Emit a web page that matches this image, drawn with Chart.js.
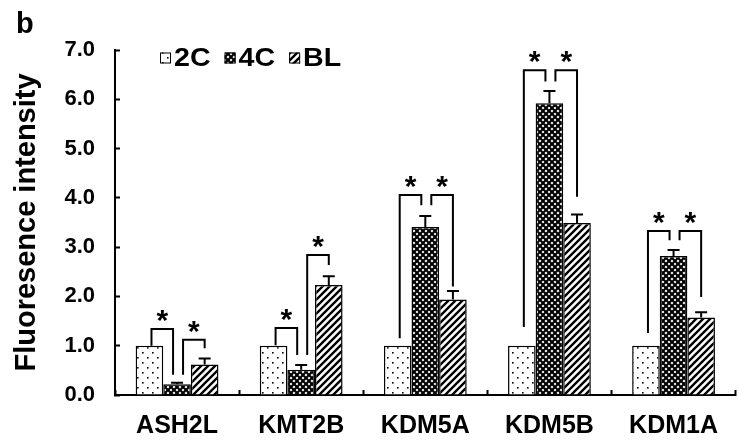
<!DOCTYPE html>
<html>
<head>
<meta charset="utf-8">
<script src="https://cdn.jsdelivr.net/npm/chart.js@4"></script>
<style>
  html, body { margin: 0; padding: 0; background: #fff; }
</style>
</head>
<body>
<canvas id="chart" width="739" height="442"></canvas>
<script>
const genes = ["ASH2L", "KMT2B", "KDM5A", "KDM5B", "KDM1A"];
const stages = ["2C", "4C", "BL"];
const values2C = [1.0, 1.0, 1.0, 1.0, 1.0];
const values4C = [0.22, 0.51, 3.41, 5.92, 2.82];
const valuesBL = [0.62, 2.23, 1.94, 3.49, 1.57];
const err2C = [0, 0, 0, 0, 0];
const err4C = [0.03, 0.10, 0.22, 0.25, 0.12];
const errBL = [0.12, 0.18, 0.17, 0.17, 0.11];
const yTicks = [0, 1, 2, 3, 4, 5, 6, 7];

// significance brackets per gene: [top, left foot, right foot] in axis units
const sig2Cvs4C = [[1.34, 1.0, 0.41], [1.36, 1.01, 0.81], [4.06, 1.15, 3.85], [6.59, 1.38, 6.36], [3.33, 1.26, 3.14]];
const sig4CvsBL = [[1.12, 0.41, 0.95], [2.84, 0.81, 2.64], [4.06, 3.85, 2.2], [6.59, 6.36, 4.02], [3.33, 3.14, 1.99]];

const FONT = "'Liberation Sans', Arial, sans-serif";

function makePattern(kind) {
    const c = document.createElement("canvas");
    const g = c.getContext("2d");
    if (kind === "dots") {
        c.width = 10; c.height = 10;
        g.fillStyle = "#fff"; g.fillRect(0, 0, 10, 10);
        g.fillStyle = "#000";
        g.fillRect(2, 2, 1.6, 1.6);
        g.fillRect(7, 7, 1.6, 1.6);
    } else if (kind === "cross") {
        c.width = 6; c.height = 6;
        g.fillStyle = "#fff"; g.fillRect(0, 0, 6, 6);
        g.strokeStyle = "#000"; g.lineWidth = 2.2;
        g.beginPath();
        g.moveTo(-1, -1); g.lineTo(7, 7);
        g.moveTo(-1, 7); g.lineTo(7, -1);
        g.stroke();
    } else {
        c.width = 7; c.height = 7;
        g.fillStyle = "#fff"; g.fillRect(0, 0, 7, 7);
        g.strokeStyle = "#000"; g.lineWidth = 2.4;
        g.beginPath();
        g.moveTo(-1, 8); g.lineTo(8, -1);
        g.moveTo(-2, 2); g.lineTo(2, -2);
        g.moveTo(5, 9); g.lineTo(9, 5);
        g.stroke();
    }
    return g.createPattern(c, "repeat");
}

const fills = [makePattern("dots"), makePattern("cross"), makePattern("stripes")];

const annotatePlugin = {
    id: "annotate",
    afterDatasetsDraw(chart) {
        const ctx = chart.ctx;
        const yScale = chart.scales.y;
        ctx.save();
        ctx.strokeStyle = "#000";
        ctx.fillStyle = "#000";
        ctx.lineWidth = 2;

        // error bars, upper half only
        chart.data.datasets.forEach((ds, di) => {
            const meta = chart.getDatasetMeta(di);
            meta.data.forEach((bar, i) => {
                const e = ds.errors[i];
                if (!e) return;
                const yTop = yScale.getPixelForValue(ds.data[i] + e);
                ctx.beginPath();
                ctx.moveTo(bar.x, bar.y);
                ctx.lineTo(bar.x, yTop);
                ctx.moveTo(bar.x - 6, yTop);
                ctx.lineTo(bar.x + 6, yTop);
                ctx.stroke();
            });
        });

        // brackets with stars
        const bars = [0, 1, 2].map(d => chart.getDatasetMeta(d).data);
        ctx.font = "bold 30px " + FONT;
        ctx.textAlign = "center";
        ctx.textBaseline = "alphabetic";
        function bracket(xl, xr, s) {
            const top = yScale.getPixelForValue(s[0]);
            ctx.beginPath();
            ctx.moveTo(xl, yScale.getPixelForValue(s[1]));
            ctx.lineTo(xl, top);
            ctx.lineTo(xr, top);
            ctx.lineTo(xr, yScale.getPixelForValue(s[2]));
            ctx.stroke();
            ctx.fillText("*", (xl + xr) / 2, top + 1);
        }
        genes.forEach((g, i) => {
            bracket(bars[0][i].x + 2, bars[1][i].x - 4, sig2Cvs4C[i]);
            bracket(bars[1][i].x + 6, bars[2][i].x, sig4CvsBL[i]);
        });

        // legend inside plot area
        let x = 160;
        const base = 66;
        ctx.font = "bold 26px " + FONT;
        ctx.textAlign = "left";
        ctx.lineWidth = 1;
        chart.data.datasets.forEach((ds) => {
            ctx.fillStyle = ds.backgroundColor;
            ctx.fillRect(x, 52.5, 11, 11);
            ctx.strokeRect(x + 0.5, 53, 10, 10);
            ctx.fillStyle = "#000";
            const w = ctx.measureText(ds.label).width * 1.1;
            ctx.save();
            ctx.translate(x + 14, base);
            ctx.scale(1.1, 1);
            ctx.fillText(ds.label, 0, 0);
            ctx.restore();
            x += 14 + w + 14;
        });

        // panel letter
        ctx.font = "bold 29px " + FONT;
        ctx.fillText("b", 16, 33);
        ctx.restore();
    }
};

const datasets = [values2C, values4C, valuesBL].map((vals, i) => ({
    label: stages[i],
    data: vals,
    errors: [err2C, err4C, errBL][i],
    backgroundColor: fills[i],
    borderColor: "#000",
    borderWidth: 1.5,
    categoryPercentage: 0.667,
    barPercentage: 1.0
}));

new Chart(document.getElementById("chart"), {
    type: "bar",
    data: { labels: genes, datasets: datasets },
    options: {
        responsive: false,
        animation: false,
        devicePixelRatio: 1,
        layout: { padding: { top: 50, right: -4, left: 0, bottom: 0 } },
        plugins: { legend: { display: false }, tooltip: { enabled: false } },
        scales: {
            x: {
                grid: { offset: true, drawOnChartArea: false, tickLength: -5, tickWidth: 2, tickColor: "#000" },
                border: { color: "#000", width: 2 },
                ticks: { color: "#000", padding: 21, font: { family: FONT, size: 25, weight: "bold" } },
                afterFit: s => { s.height = 47; }
            },
            y: {
                min: 0,
                max: 7,
                afterBuildTicks: s => { s.ticks = yTicks.map(v => ({ value: v })); },
                grid: { drawOnChartArea: false, tickLength: -5, tickWidth: 2, tickColor: "#000" },
                border: { color: "#000", width: 2 },
                ticks: {
                    color: "#000", padding: 25,
                    font: { family: FONT, size: 22, weight: "bold" },
                    callback: v => v.toFixed(1)
                },
                title: {
                    display: true, text: "Fluoresence intensity", color: "#000",
                    font: { family: FONT, size: 29, weight: "bold" },
                    padding: { top: 10, bottom: 0 }
                },
                afterFit: s => { s.width = 115; }
            }
        }
    },
    plugins: [annotatePlugin]
});
</script>
</body>
</html>
